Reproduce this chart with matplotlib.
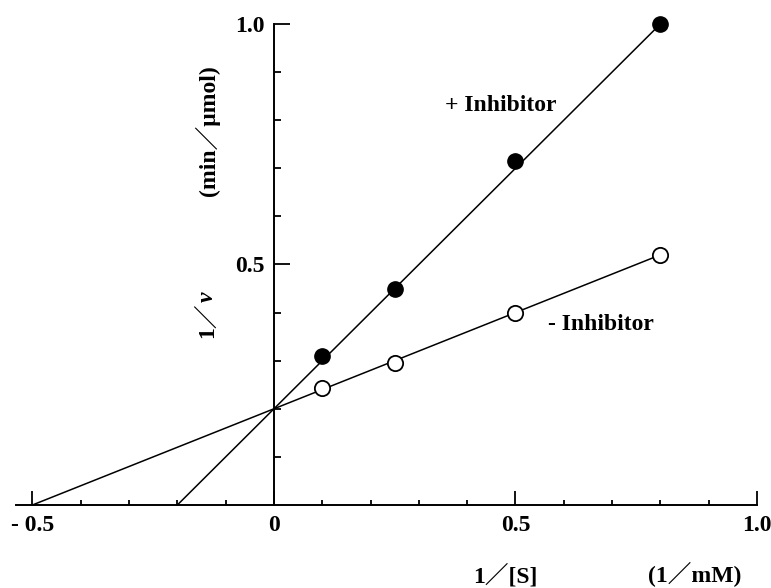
import matplotlib
matplotlib.use('Agg')
import matplotlib.pyplot as plt
import numpy as np

# Lineweaver-Burk data
inv_s = [0.1, 0.25, 0.5, 0.8]
inv_v_plus = [0.31, 0.45, 0.715, 1.0]     # + Inhibitor
inv_v_minus = [0.243, 0.295, 0.40, 0.52]  # - Inhibitor

# fitted lines share the y intercept (1/Vmax)
y_intercept = 0.2
slope_plus = 1.0
slope_minus = 0.4

x_ticks = [-0.5, 0, 0.5, 1.0]
x_ticklabels = ['- 0.5', '0', '0.5', '1.0']
y_ticks = [0.5, 1.0]
y_ticklabels = ['0.5', '1.0']

plt.rcParams['font.family'] = ['Liberation Serif', 'Noto Sans CJK JP']
plt.rcParams['font.weight'] = 'bold'
FS = 17

fig = plt.figure(figsize=(7.71, 5.88), dpi=100)
ax = fig.add_axes([0.0202, 0.1412, 0.9616, 0.818])
ax.set_xlim(-0.535, 1.0)
ax.set_ylim(0, 1.0)

# regression lines, from the x intercept (-1/Km) to the last point
for slope in (slope_plus, slope_minus):
    x0 = -y_intercept / slope
    xs = np.array([x0, inv_s[-1]])
    ax.plot(xs, y_intercept + slope * xs, color='black', lw=1.1,
            clip_on=False, zorder=2)

ax.plot(inv_s, inv_v_plus, 'o', ms=11, mfc='black', mec='black',
        clip_on=False, zorder=3)
ax.plot(inv_s, inv_v_minus, 'o', ms=11, mfc='white', mec='black', mew=1.3,
        clip_on=False, zorder=3)

# axes: x axis along the bottom, y axis through x = 0
for s in ('top', 'right'):
    ax.spines[s].set_visible(False)
ax.spines['left'].set_position(('data', 0))
ax.spines['left'].set_bounds(0, 1.0)
ax.spines['left'].set_linewidth(1.4)
ax.spines['bottom'].set_linewidth(1.4)

ax.set_xticks(x_ticks)
ax.set_xticklabels(x_ticklabels, fontsize=FS, fontweight='bold')
ax.set_xticks(np.arange(-5, 11) / 10, minor=True)
ax.set_yticks(y_ticks)
ax.set_yticklabels(y_ticklabels, fontsize=FS, fontweight='bold')
ax.set_yticks(np.arange(1, 10) / 10, minor=True)
ax.tick_params(axis='x', which='major', direction='in', length=10, width=1.3, pad=7)
ax.tick_params(axis='x', which='minor', direction='in', length=3.6, width=1.3)
ax.tick_params(axis='y', which='major', direction='in', length=11.5, width=1.3, pad=7)
ax.tick_params(axis='y', which='minor', direction='in', length=5, width=1.3)

# line labels
ax.text(0.47, 0.83, '+ Inhibitor', fontsize=FS, fontweight='bold',
        ha='center', va='center')
ax.text(0.677, 0.376, '- Inhibitor', fontsize=FS, fontweight='bold',
        ha='center', va='center')

W, H = 771, 588
# x axis label
fig.text(505 / W, 1 - 576 / H, '1／[S]', fontsize=FS, fontweight='bold',
         ha='center', va='center')
fig.text(695 / W, 1 - 574 / H, '(1／mM)', fontsize=FS, fontweight='bold',
         ha='center', va='center')

# y axis label, rotated
fig.text(207 / W, 1 - 131 / H, '(min／μmol)', fontsize=FS, fontweight='bold',
         rotation=90, ha='center', va='center')
t1 = fig.text(207 / W, 1 - 338 / H, '1／', fontsize=FS, fontweight='bold',
              rotation=90, rotation_mode='anchor', ha='left', va='center')
fig.canvas.draw()
bb = t1.get_window_extent()
fig.text(207 / W, bb.y1 / fig.bbox.height, 'v', fontsize=FS,
         fontweight='bold', fontstyle='italic',
         rotation=90, rotation_mode='anchor', ha='left', va='center')

fig.savefig('out.png', dpi=100)
